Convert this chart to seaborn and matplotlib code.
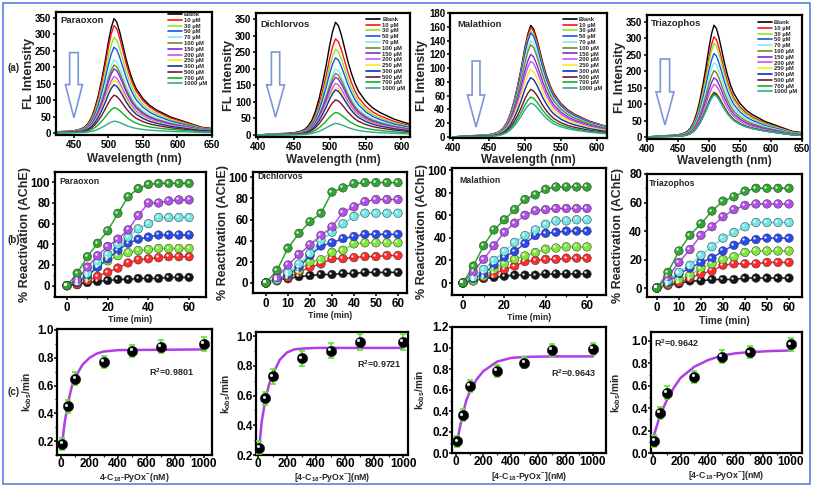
import numpy as np
import pandas as pd
import matplotlib
matplotlib.use("Agg")
import matplotlib.pyplot as plt
import seaborn as sns
from matplotlib.lines import Line2D
from matplotlib.patches import Polygon, Rectangle
from matplotlib.ticker import MultipleLocator, FormatStrFormatter
from matplotlib.transforms import offset_copy

sns.set_theme(style="ticks")
plt.rcParams["font.family"] = ["Liberation Sans", "DejaVu Sans"]
plt.rcParams["font.weight"] = "bold"
plt.rcParams["axes.labelweight"] = "bold"
plt.rcParams["mathtext.fontset"] = "custom"
plt.rcParams["mathtext.rm"] = "Liberation Sans:bold"
plt.rcParams["mathtext.bf"] = "Liberation Sans:bold"
plt.rcParams["mathtext.it"] = "Liberation Sans:bold"

# ---------------- data: row (a) fluorescence spectra ----------------
conc_labels = ["Blank", "10 µM", "30 µM", "50 µM", "70 µM", "100 µM", "150 µM",
               "200 µM", "250 µM", "300 µM", "500 µM", "700 µM", "1000 µM"]
spec_colors = ["#000000", "#FF1010", "#8CE62A", "#2050F0", "#7FEFEF", "#76862A", "#7A2ED0",
               "#D050F0", "#F0F020", "#1030B0", "#7A1030", "#10B020", "#30A890"]
wavelength = [400, 420, 440, 450, 460, 465, 470, 475, 480, 485, 490, 495, 500, 504, 508,
              512, 516, 520, 525, 530, 535, 540, 550, 560, 570, 580, 590, 600, 610, 620, 635, 650]
blank_profile = [0.00, 0.01, 0.015, 0.02, 0.035, 0.05, 0.08, 0.13, 0.21, 0.32, 0.46, 0.62, 0.80,
                 0.92, 1.00, 0.97, 0.89, 0.79, 0.66, 0.55, 0.46, 0.39, 0.30, 0.24, 0.20, 0.17,
                 0.14, 0.12, 0.10, 0.08, 0.05, 0.04]
peaks_paraoxon = [348, 327, 291, 261, 223, 207, 195, 172, 160, 147, 115, 77, 36]
peaks_dichlorvos = [340, 290, 259, 233, 199, 186, 174, 156, 144, 136, 106, 68, 35]
peaks_malathion = [162, 159, 154, 151, 140, 134, 120, 110, 98, 86, 69, 58, 49]
peaks_triazophos = [340, 305, 285, 254, 226, 202, 180, 160, 140, 135, 132, 130, 128]

# ---------------- data: row (b) reactivation ----------------
time_min = [0, 5, 10, 15, 20, 25, 30, 35, 40, 45, 50, 55, 60]
react_colors = ["#151515", "#FF2A2A", "#7EE83A", "#2848F0", "#72E6E6", "#B24FEA", "#2FA62F"]
react_paraoxon = [
    [0, 1, 3, 4, 5, 6, 6, 7, 7, 7, 8, 8, 8],
    [0, 1, 5, 9, 13, 17, 22, 25, 26, 27, 28, 28, 28],
    [0, 3, 8, 18, 24, 29, 32, 34, 35, 36, 36, 36, 36],
    [0, 3, 10, 18, 26, 34, 41, 45, 47, 49, 49, 49, 49],
    [0, 4, 12, 22, 30, 40, 47, 55, 60, 66, 66, 66, 66],
    [0, 6, 18, 29, 38, 45, 54, 68, 80, 80, 82, 83, 83],
    [0, 12, 28, 41, 53, 70, 86, 94, 98, 99, 99, 99, 99],
]
react_dichlorvos = [
    [0, 3, 4, 6, 7, 8, 8, 9, 9, 10, 10, 10, 10],
    [0, 2, 5, 10, 15, 18, 23, 23, 24, 25, 25, 26, 26],
    [0, 3, 7, 12, 20, 22, 29, 31, 37, 38, 38, 38, 38],
    [0, 3, 8, 15, 26, 35, 38, 42, 44, 46, 46, 46, 46],
    [0, 3, 10, 18, 28, 40, 48, 56, 63, 66, 66, 66, 66],
    [0, 5, 17, 27, 36, 45, 53, 67, 72, 77, 79, 79, 79],
    [0, 12, 33, 47, 58, 66, 86, 90, 94, 95, 95, 95, 95],
]
react_malathion = [
    [0, 2, 4, 5, 6, 7, 7, 7, 8, 8, 8, 8, 8],
    [0, 2, 5, 8, 12, 15, 19, 20, 21, 21, 22, 22, 22],
    [0, 2, 6, 12, 17, 21, 24, 27, 30, 31, 32, 32, 32],
    [0, 4, 8, 16, 23, 28, 35, 42, 44, 45, 46, 46, 46],
    [0, 5, 12, 20, 28, 36, 42, 47, 52, 55, 55, 56, 56],
    [0, 10, 21, 33, 45, 53, 60, 64, 65, 66, 66, 66, 66],
    [0, 15, 33, 47, 56, 65, 74, 78, 83, 85, 85, 85, 85],
]
react_triazophos = [
    [0, 2, 3, 5, 5, 6, 6, 6, 7, 7, 7, 7, 7],
    [0, 2, 4, 7, 10, 12, 16, 17, 17, 17, 18, 18, 18],
    [0, 3, 6, 9, 14, 17, 20, 22, 25, 26, 26, 26, 26],
    [0, 4, 10, 14, 18, 21, 26, 30, 33, 34, 35, 35, 35],
    [0, 5, 11, 16, 23, 29, 35, 39, 43, 46, 46, 46, 46],
    [0, 8, 18, 27, 37, 43, 50, 55, 58, 59, 59, 59, 59],
    [0, 11, 26, 37, 45, 54, 61, 64, 68, 70, 70, 70, 70],
]

# ---------------- data: row (c) kobs ----------------
pyox_conc = [10, 50, 100, 300, 500, 700, 1000]
kobs_paraoxon = [0.18, 0.45, 0.65, 0.77, 0.85, 0.88, 0.90]
kobs_dichlorvos = [0.25, 0.58, 0.73, 0.85, 0.90, 0.96, 0.96]
kobs_malathion = [0.11, 0.36, 0.64, 0.78, 0.86, 0.98, 0.99]
kobs_triazophos = [0.11, 0.36, 0.54, 0.68, 0.86, 0.90, 0.97]
kerr_paraoxon = [0.045, 0.045, 0.045, 0.045, 0.045, 0.045, 0.05]
kerr_dichlorvos = [0.045, 0.045, 0.05, 0.05, 0.05, 0.055, 0.055]
kerr_malathion = [0.055, 0.055, 0.055, 0.055, 0.055, 0.06, 0.06]
kerr_triazophos = [0.055, 0.055, 0.055, 0.055, 0.055, 0.055, 0.06]
fit_x_paraoxon = [10, 25, 50, 75, 100, 150, 200, 250, 300, 400, 1000]
fit_y_paraoxon = [0.20, 0.33, 0.48, 0.59, 0.66, 0.75, 0.80, 0.83, 0.845, 0.855, 0.86]
fit_x_dichlorvos = [10, 25, 50, 75, 100, 150, 200, 250, 300, 400, 1000]
fit_y_dichlorvos = [0.27, 0.42, 0.57, 0.67, 0.74, 0.84, 0.89, 0.91, 0.915, 0.92, 0.92]
fit_x_malathion = [10, 25, 50, 75, 100, 150, 200, 300, 400, 500, 700, 1000]
fit_y_malathion = [0.12, 0.22, 0.37, 0.50, 0.58, 0.70, 0.78, 0.87, 0.905, 0.915, 0.92, 0.92]
fit_x_triazophos = [10, 50, 100, 150, 200, 300, 400, 500, 600, 700, 850, 1000]
fit_y_triazophos = [0.17, 0.33, 0.47, 0.58, 0.67, 0.77, 0.83, 0.87, 0.89, 0.90, 0.91, 0.915]
r2_labels = ["0.9801", "0.9721", "0.9643", "0.9642"]

# ---------------- figure ----------------
W, H = 813, 487
fig = plt.figure(figsize=(W / 100, H / 100), dpi=100)


def add_ax(box):
    x0, y0, x1, y1 = box
    return fig.add_axes([x0 / W, 1 - y1 / H, (x1 - x0) / W, (y1 - y0) / H])


def frame(ax, fs, xmaj, ymaj, xmin=None, ymin=None, length=2.5, pad=1.0):
    for s in ax.spines.values():
        s.set_linewidth(1.6)
        s.set_color("black")
    ax.xaxis.set_major_locator(MultipleLocator(xmaj))
    ax.yaxis.set_major_locator(MultipleLocator(ymaj))
    if xmin:
        ax.xaxis.set_minor_locator(MultipleLocator(xmin))
    if ymin:
        ax.yaxis.set_minor_locator(MultipleLocator(ymin))
    ax.tick_params(which="major", direction="out", length=length, width=1.1, labelsize=fs,
                   pad=pad, colors="black", top=False, right=False)
    ax.tick_params(which="minor", direction="out", length=1.6, width=0.9,
                   top=False, right=False)
    ax.grid(False)


# ---- row (a)
spec_specs = [
    ("Paraoxon", peaks_paraoxon, (56, 12, 212, 135), (424, 650), (-6, 368), 50,
     (0.97, 1.0), (0.115, 0.0275, 0.055, 0.67, 0.41, 0.14), (0.03, 0.93), -0.175, -0.195),
    ("Dichlorvos", peaks_dichlorvos, (256, 13, 410, 137), (397, 612), (-6, 368), 50,
     (0.97, 0.97), (0.127, 0.027, 0.058, 0.685, 0.42, 0.16), (0.03, 0.91), -0.178, -0.185),
    ("Malathion", peaks_malathion, (450, 13, 607, 138), (396, 614), (-1.5, 180), 20,
     (0.97, 0.97), (0.166, 0.025, 0.055, 0.616, 0.344, 0.088), (0.045, 0.91), -0.178, -0.176),
    ("Triazophos", peaks_triazophos, (647, 15, 802, 139), (400, 650), (-6, 371), 50,
     (0.97, 0.96), (0.116, 0.03, 0.058, 0.645, 0.38, 0.113), (0.026, 0.935), -0.176, -0.177),
]
for name, peaks, box, xl, yl, ymaj, lanc, arr, txy, ylx, xly in spec_specs:
    ax = add_ax(box)
    rows = []
    for lab, pk in zip(conc_labels, peaks):
        for w, p in zip(wavelength, blank_profile):
            rows.append((lab, w, pk * p))
    df = pd.DataFrame(rows, columns=["conc", "wl", "I"])
    sns.lineplot(data=df, x="wl", y="I", hue="conc", hue_order=conc_labels,
                 palette=spec_colors, estimator=None, sort=False, lw=1.0,
                 legend=False, ax=ax)
    ax.set_xlim(*xl)
    ax.set_ylim(*yl)
    frame(ax, 7, 50, ymaj)
    handles = [Line2D([], [], color=c, lw=1.2) for c in spec_colors]
    ax.legend(handles, conc_labels, loc="upper right", bbox_to_anchor=lanc, frameon=False,
              fontsize=4.2, labelspacing=0.12, handlelength=2.3, handletextpad=0.4,
              borderaxespad=0, borderpad=0)
    cx, s, h, top, neck, tip = arr
    ax.add_patch(Polygon([(cx - s, top), (cx + s, top), (cx + s, neck), (cx + h, neck),
                          (cx, tip), (cx - h, neck), (cx - s, neck)], closed=True,
                         transform=ax.transAxes, fc="white", ec="#7B96D8", lw=1.2, zorder=3))
    ax.text(txy[0], txy[1], name, transform=ax.transAxes, fontsize=6.8,
            fontweight="bold", ha="left", va="center")
    ax.set_ylabel("FL Intensity", fontsize=9.2, va="center")
    ax.yaxis.set_label_coords(ylx, 0.5)
    ax.set_xlabel("Wavelength (nm)", fontsize=8.5, va="center")
    ax.xaxis.set_label_coords(0.5, xly)

# ---- row (b)
react_specs = [
    ("Paraoxon", react_paraoxon, (55, 172, 206, 297), (-5.9, 68.3), (-11, 110), 20,
     (0.027, 0.92), -0.2, -0.184, 6.3),
    ("Dichlorvos", react_dichlorvos, (253, 172, 407, 293), (-5.9, 64.1), (-9.5, 105), 10,
     (0.026, 0.96), -0.197, -0.19, 6.3),
    ("Malathion", react_malathion, (452, 168, 606, 295), (-5.3, 69.2), (-10.6, 101.8), 20,
     (0.046, 0.905), -0.197, -0.18, 6.3),
    ("Triazophos", react_triazophos, (647, 174, 802, 297), (-4.5, 65.9), (-6.3, 80), 10,
     (0.01, 0.92), -0.19, -0.195, 7.2),
]
for name, series, box, xl, yl, xmaj, txy, ylx, xly, tfs in react_specs:
    ax = add_ax(box)
    rows = []
    for i, vals in enumerate(series):
        for t, v in zip(time_min, vals):
            rows.append((i, t, v))
    df = pd.DataFrame(rows, columns=["series", "t", "r"])
    sns.lineplot(data=df, x="t", y="r", hue="series", palette=react_colors,
                 estimator=None, sort=False, lw=1.1, legend=False, ax=ax)
    sns.scatterplot(data=df, x="t", y="r", hue="series", palette=react_colors, s=38,
                    edgecolor="#303030", linewidth=0.35, legend=False, zorder=4, ax=ax)
    ax.scatter(df["t"], df["r"], s=3, color="white", alpha=0.9, zorder=5, linewidths=0,
               transform=offset_copy(ax.transData, fig=fig, x=-1.1, y=1.1, units="points"))
    ax.set_xlim(*xl)
    ax.set_ylim(*yl)
    frame(ax, 8.3, xmaj, 20, xmin=10 if xmaj == 20 else None, ymin=10)
    ax.text(txy[0], txy[1], name, transform=ax.transAxes, fontsize=6.3,
            fontweight="bold", ha="left", va="center")
    ax.set_ylabel("% Reactivation (AChE)", fontsize=9.0, va="center")
    ax.yaxis.set_label_coords(ylx, 0.5)
    ax.set_xlabel("Time (min)", fontsize=tfs, va="center")
    ax.xaxis.set_label_coords(0.5, xly)

# ---- row (c)
xlab_plain = r"4-C$_{18}$-PyOx$^{-}$(nM)"
xlab_br = r"[4-C$_{18}$-PyOx$^{-}$](nM)"
kobs_specs = [
    (kobs_paraoxon, kerr_paraoxon, fit_x_paraoxon, fit_y_paraoxon, (57, 329, 212, 455),
     (-28, 1056), (0.1, 1.007), (0.74, 0.66), xlab_plain, -0.19, -0.175),
    (kobs_dichlorvos, kerr_dichlorvos, fit_x_dichlorvos, fit_y_dichlorvos, (256, 332, 408, 455),
     (-14, 1034), (0.2, 1.027), (0.81, 0.74), xlab_br, -0.2, -0.179),
    (kobs_malathion, kerr_malathion, fit_x_malathion, fit_y_malathion, (452, 327, 606, 453),
     (-29, 1095), (0.0, 1.2), (0.79, 0.635), xlab_br, -0.21, -0.183),
    (kobs_triazophos, kerr_triazophos, fit_x_triazophos, fit_y_triazophos, (651, 332, 802, 453),
     (-14, 1080), (0.0, 1.08), (0.17, 0.91), xlab_br, -0.23, -0.19),
]
for k, (ky, ke, fx, fy, box, xl, yl, r2xy, xlab, ylx, xly) in enumerate(kobs_specs):
    ax = add_ax(box)
    sns.lineplot(x=fx, y=fy, color="#B03EE8", lw=1.8, estimator=None, sort=False, ax=ax)
    ax.errorbar(pyox_conc, ky, yerr=ke, fmt="none", ecolor="#5CE62A", elinewidth=1.4,
                capsize=2, capthick=1.2, zorder=3)
    sns.scatterplot(x=pyox_conc, y=ky, color="black", s=55, edgecolor="#202020",
                    linewidth=0.4, zorder=4, ax=ax)
    ax.scatter(pyox_conc, ky, s=5, color="#DDE6FF", zorder=5, linewidths=0,
               transform=offset_copy(ax.transData, fig=fig, x=-1.2, y=1.2, units="points"))
    ax.set_xlim(*xl)
    ax.set_ylim(*yl)
    frame(ax, 8.5, 200, 0.2, xmin=100, ymin=0.1, length=2.0, pad=0.5)
    ax.yaxis.set_major_formatter(FormatStrFormatter("%.1f"))
    ax.text(r2xy[0], r2xy[1], r"R$^{2}$=" + r2_labels[k], transform=ax.transAxes,
            fontsize=6.5, fontweight="bold", ha="center", va="center")
    ax.set_ylabel(r"k$_{obs}$/min", fontsize=7.2, va="center")
    ax.yaxis.set_label_coords(ylx, 0.5)
    ax.set_xlabel(xlab, fontsize=6.3, va="center")
    ax.xaxis.set_label_coords(0.5, xly)

# row labels
for lab, y in [("(a)", 68), ("(b)", 240), ("(c)", 392)]:
    fig.text(14 / W, 1 - y / H, lab, fontsize=7, fontweight="bold", ha="center", va="center")

# outer border
fig.patches.append(Rectangle((3 / W, 3 / H), 807 / W, 481 / H, transform=fig.transFigure,
                             fill=False, ec="#5B7FE0", lw=1.2))

fig.savefig("out.png", dpi=100)
